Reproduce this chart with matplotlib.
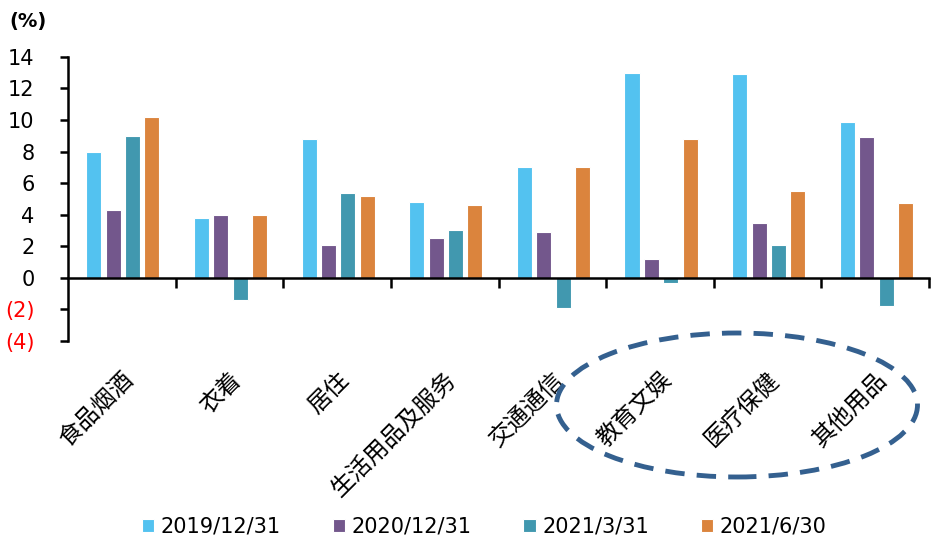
import matplotlib
matplotlib.use("Agg")
import matplotlib.pyplot as plt
from matplotlib.patches import Ellipse

# 各类消费项目增速（%）
categories = ["食品烟酒", "衣着", "居住", "生活用品及服务",
              "交通通信", "教育文娱", "医疗保健", "其他用品"]
series_names = ["2019/12/31", "2020/12/31", "2021/3/31", "2021/6/30"]
v_2019_12 = [8.0, 3.8, 8.8, 4.8, 7.0, 13.0, 12.9, 9.9]
v_2020_12 = [4.3, 3.95, 2.1, 2.5, 2.9, 1.2, 3.5, 8.9]
v_2021_03 = [9.0, -1.4, 5.4, 3.0, -1.9, -0.3, 2.1, -1.8]
v_2021_06 = [10.2, 3.95, 5.2, 4.6, 7.0, 8.8, 5.5, 4.75]
y_ticks = [-4, -2, 0, 2, 4, 6, 8, 10, 12, 14]
y_tick_labels = ["(4)", "(2)", "0", "2", "4", "6", "8", "10", "12", "14"]

colors = ["#53C2F0", "#73578C", "#4198AF", "#DB843D"]
values = [v_2019_12, v_2020_12, v_2021_03, v_2021_06]

fig = plt.figure(figsize=(9.31, 5.42), dpi=100)
ax = fig.add_axes([0.073, 0.371, 0.925, 0.524])

n = len(categories)
width = 0.14
offsets = [-0.26, -0.08, 0.10, 0.28]
for vals, off, c, name in zip(values, offsets, colors, series_names):
    xs = [i + 0.5 + off for i in range(n)]
    ax.bar(xs, vals, width=width, color=c, edgecolor="white",
           linewidth=0.8, label=name, zorder=2)

ax.set_xlim(0, n)
ax.set_ylim(-4, 14)

# 坐标轴样式
for s in ["top", "right"]:
    ax.spines[s].set_visible(False)
ax.spines["bottom"].set_position(("data", 0))
ax.spines["bottom"].set_linewidth(1.8)
ax.spines["left"].set_linewidth(1.8)
ax.spines["bottom"].set_zorder(3)

ax.set_yticks(y_ticks)
ax.set_yticklabels(y_tick_labels, fontsize=15)
for lbl, v in zip(ax.get_yticklabels(), y_ticks):
    if v < 0:
        lbl.set_color("red")
ax.tick_params(axis="y", direction="out", length=6, width=1.8, pad=18)

ax.set_xticks(range(1, n + 1))
ax.set_xticklabels([])
ax.tick_params(axis="x", which="major", direction="out", length=7, width=1.8)
ax.set_xticks([i + 0.5 for i in range(n)], minor=True)
ax.set_xticklabels(categories, minor=True, rotation=45,
                   family=["Noto Sans CJK SC", "DejaVu Sans"],
                   fontsize=17, fontweight="light")
ax.tick_params(axis="x", which="minor", length=0, pad=65)
for lbl in ax.get_xticklabels(minor=True):
    lbl.set_horizontalalignment("right")
    lbl.set_verticalalignment("top")
    lbl.set_rotation_mode("anchor")

fig.text(0.03, 0.96, "(%)", fontsize=14, fontweight="bold",
         ha="center", va="center")

# 虚线椭圆圈出教育文娱、医疗保健、其他用品
ell = Ellipse((737 / 931, 1 - 405 / 542), 361 / 931, 144 / 542,
              transform=fig.transFigure, fill=False, edgecolor="#34608F",
              linewidth=3.5, linestyle=(0, (4, 2.5)))
fig.add_artist(ell)

leg = fig.legend(loc="center", bbox_to_anchor=(0.52, 0.028), ncol=4,
                 frameon=False, fontsize=15, handlelength=0.6,
                 handleheight=0.6, handletextpad=0.3, columnspacing=2.5)

fig.savefig("out.png", dpi=100)
